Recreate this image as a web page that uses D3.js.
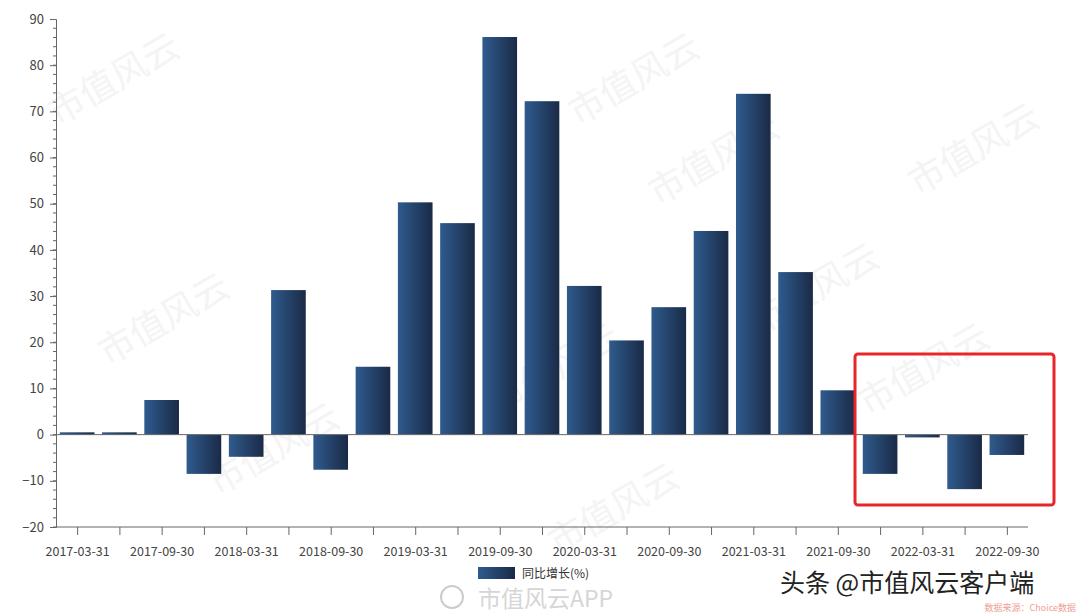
<!DOCTYPE html><html><head><meta charset="utf-8"><script src="https://cdn.jsdelivr.net/npm/d3@7"></script>
<style>body{margin:0;background:#fff}text{font-family:"Noto Sans CJK SC","Open Sans",sans-serif}</style></head><body>
<svg id="c" width="1080" height="615"></svg>
<script>
const categories=["2017-03-31","2017-06-30","2017-09-30","2017-12-31","2018-03-31","2018-06-30","2018-09-30","2018-12-31","2019-03-31","2019-06-30","2019-09-30","2019-12-31","2020-03-31","2020-06-30","2020-09-30","2020-12-31","2021-03-31","2021-06-30","2021-09-30","2021-12-31","2022-03-31","2022-06-30","2022-09-30"];
const values=[0.5,0.5,7.5,-8.5,-4.8,31.3,-7.6,14.7,50.3,45.8,86.1,72.2,32.2,20.4,27.6,44.1,73.8,35.2,9.6,-8.5,-0.6,-11.8,-4.4];
const yTicks=[-20,-10,0,10,20,30,40,50,60,70,80,90];
const svg=d3.select("#c");
const defs=svg.append("defs");
const g=defs.append("linearGradient").attr("id","gr").attr("x1",0).attr("x2",1).attr("y1",0).attr("y2",0);
g.append("stop").attr("offset","0%").attr("stop-color","#2f5b8e");
g.append("stop").attr("offset","100%").attr("stop-color","#1a2a46");
const wm=[[120,90],[640,90],[980,160],[170,330],[560,380],[720,170],[820,300],[930,380],[280,460],[620,520]];
wm.forEach(([x,y])=>svg.append("text").attr("transform",`translate(${x},${y}) rotate(-30)`).attr("font-size",36).attr("fill","#f4f4f4").attr("text-anchor","middle").text("市值风云"));
const x=d3.scaleBand().domain(categories).range([56,1028]).paddingInner(0.18).paddingOuter(0.09);
const y=d3.scaleLinear().domain([-20,90]).range([527,19]);
svg.append("g").selectAll("rect").data(values).join("rect")
 .attr("x",(d,i)=>x(categories[i])).attr("width",x.bandwidth())
 .attr("y",d=>y(Math.max(0,d))).attr("height",d=>Math.abs(y(d)-y(0))).attr("fill","url(#gr)");
svg.append("line").attr("x1",56).attr("x2",1028).attr("y1",y(0)).attr("y2",y(0)).attr("stroke","#666");
const ya=svg.append("g").attr("transform","translate(56,0)").call(d3.axisLeft(y).tickValues(yTicks).tickSize(6).tickPadding(6));
ya.selectAll("text").attr("font-size",13).attr("fill","#444");
ya.append("g").selectAll("line").data(d3.range(-20,90,2)).join("line").attr("x1",-3).attr("x2",0).attr("y1",d=>y(d)).attr("y2",d=>y(d)).attr("stroke","#666");
const xs=d3.scalePoint().domain(categories).range([x(categories[0])+x.bandwidth()/2,x(categories[22])+x.bandwidth()/2]);
const xa=svg.append("g").attr("transform","translate(0,527)").call(d3.axisBottom(xs).tickSize(8).tickSizeOuter(0).tickPadding(12).tickFormat((d,i)=>i%2==0?d:""));
xa.select(".domain").attr("d","M56,0H1028");
xa.selectAll("text").attr("font-size",12.5).attr("fill","#444");
svg.selectAll(".domain,.tick line").attr("stroke","#666");
svg.append("rect").attr("x",855).attr("y",354).attr("width",199).attr("height",151).attr("rx",3).attr("fill","none").attr("stroke","#e8262a").attr("stroke-width",3);
svg.append("text").attr("x",478).attr("y",607).attr("font-size",23).attr("fill","#ccc").attr("opacity",0.8).text("市值风云APP");
svg.append("circle").attr("cx",452).attr("cy",597).attr("r",11).attr("fill","none").attr("stroke","#ccc").attr("stroke-width",2);
svg.append("rect").attr("x",478).attr("y",567).attr("width",37).attr("height",12).attr("fill","url(#gr)");
svg.append("text").attr("x",522).attr("y",578).attr("font-size",12).attr("fill","#333").text("同比增长(%)");
svg.append("text").attr("x",780).attr("y",592).attr("font-size",25).attr("fill","#222").text("头条 @市值风云客户端");
svg.append("text").attr("x",1076).attr("y",611).attr("text-anchor","end").attr("font-size",9).attr("fill","#f0a090").text("数据来源：Choice数据");
</script></body></html>
